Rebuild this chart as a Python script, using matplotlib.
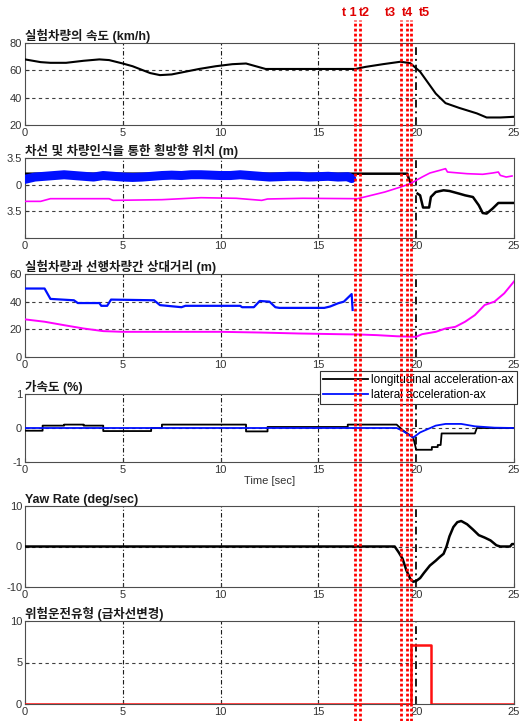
import numpy as np
import matplotlib
matplotlib.use("Agg")
import matplotlib.pyplot as plt
from matplotlib.lines import Line2D
from matplotlib.transforms import blended_transform_factory

plt.rcParams['font.family'] = ['Liberation Sans', 'Noto Sans CJK KR', 'DejaVu Sans']
plt.rcParams['axes.unicode_minus'] = False

# ---- data ----
speed_t = [0, 0.8, 1.3, 2.1, 3.0, 3.8, 4.3, 5.0, 5.5, 6.4, 6.9, 7.5, 8.2, 8.9, 9.75,
           10.6, 11.3, 11.8, 12.3, 14.0, 15.7, 16.9, 17.4, 18.3, 19.2, 19.7, 20.2,
           20.5, 21.0, 21.5, 22.2, 23.1, 23.6, 24.3, 25.0]
speed_v = [68, 66, 65.5, 65.5, 67, 68, 67.5, 65, 63, 58, 56.5, 57, 59, 61, 63,
           64.5, 65, 63, 61, 61, 61, 61, 62.5, 64.5, 66.3, 65.2, 59,
           53, 43, 36, 32.5, 28.5, 25.5, 25.5, 26]

lane_blue_t = list(np.arange(0, 16.6, 0.5)) + [16.7]
lane_blue_v = [0.7, 1.0, 1.1, 1.2, 1.3, 1.2, 1.1, 1.0, 1.2, 1.1, 1.0, 0.95, 1.0, 1.1,
               1.2, 1.25, 1.2, 1.3, 1.3, 1.25, 1.2, 1.2, 1.3, 1.2, 1.1, 1.0, 1.05,
               1.1, 1.1, 1.0, 1.05, 1.1, 1.0, 1.05, 0.8]
lane_black_t = [0, 19.55, 19.62, 19.75, np.nan, 20.07, 20.2, 20.35, 20.66, 20.75,
                21.0, 21.4, 21.7, 22.2, 22.5, 22.9, 23.2, 23.4, 23.6, 23.9, 24.2, 25.0]
lane_black_v = [1.44, 1.44, 0.8, 0.1, np.nan, -1.18, -1.4, -3.0, -3.0, -1.62,
                -0.96, -0.74, -0.83, -1.18, -1.4, -1.62, -2.71, -3.72, -3.8, -3.15, -2.4, -2.4]
lane_mag_t = [0, 0.8, 1.3, 4.3, 4.5, 7.0, 9.0, 10.8, 12.1, 12.4, 14.2, 17.0, 17.5,
              18.4, 19.2, 19.7, 20.3, 20.7, 21.2, 21.5, 21.6, 22.6, 23.4, 23.9,
              24.2, 24.3, 24.6, 24.9]
lane_mag_v = [-2.19, -2.19, -1.84, -1.84, -2.06, -1.97, -1.71, -1.79, -2.06, -1.88,
              -1.79, -1.84, -1.53, -0.96, -0.31, 0.13, 1.0, 1.53, 1.88, 2.1, 1.66,
              1.44, 1.36, 1.53, 1.66, 1.22, 1.0, 1.14]

gap_blue_t = [0, 1.0, 1.3, 2.5, 2.7, 3.8, 3.9, 4.2, 4.4, 6.6, 6.9, 8.0, 8.2, 11.0,
              11.1, 11.7, 12.0, 12.5, 12.8, 13.0, 15.3, 15.6, 16.0, 16.3, 16.7, 16.75]
gap_blue_v = [49.5, 49.5, 42, 41, 39, 39, 37, 37, 41.5, 41, 37.5, 36, 37, 37,
              36, 36, 40.5, 40, 36, 35.5, 35.5, 36.5, 38.8, 40, 45.5, 34]
gap_mag_t = [0, 1, 2, 3, 4, 5, 7, 10, 12, 14, 16, 17, 18, 19, 20, 20.3, 21, 21.5,
             22, 22.5, 23, 23.5, 24, 24.5, 25]
gap_mag_v = [27.2, 25.5, 23, 20.6, 18.7, 18.2, 18.2, 18.2, 17.7, 17, 16.5, 16.3,
             15.8, 15, 14.6, 16.5, 18.2, 20.6, 21.8, 25.5, 30.3, 37.6, 40, 46, 54.6]

ax_long_t = [0, 0.9, 0.9, 2.0, 2.0, 3.0, 3.0, 4.0, 4.0, 6.45, 6.45, 7.0, 7.0, 11.3,
             11.3, 12.4, 12.4, 16.5, 16.5, 19.0, 19.3, 19.6, 19.85, 20.0, 20.8, 20.8,
             21.1, 21.1, 21.25, 21.3, 23.0, 23.1, 25]
ax_long_v = [-0.08, -0.08, 0.07, 0.07, 0.1, 0.1, 0.07, 0.07, -0.09, -0.09, 0.0, 0.0,
             0.1, 0.1, -0.1, -0.1, 0.03, 0.03, 0.1, 0.1, -0.06, -0.18, -0.28, -0.64,
             -0.64, -0.56, -0.56, -0.5, -0.5, -0.16, -0.16, 0.0, 0.0]
ax_lat_t = [0, 19.0, 19.3, 19.7, 19.85, 20.2, 20.6, 21.0, 21.5, 22.3, 23.0, 24.0, 25]
ax_lat_v = [0.0, 0.0, -0.08, -0.23, -0.28, -0.13, -0.03, 0.07, 0.12, 0.12, 0.05, 0.01, 0.0]

yaw_t = [0, 18.9, 19.1, 19.3, 19.5, 19.7, 19.85, 20.0, 20.2, 20.4, 20.7, 21.0, 21.2,
         21.4, 21.55, 21.7, 21.9, 22.1, 22.3, 22.6, 22.9, 23.2, 23.5, 23.8, 24.1,
         24.3, 24.8, 24.9, 25.0]
yaw_v = [0, 0, -1.4, -3.0, -5.9, -8.0, -8.7, -8.5, -7.8, -6.5, -4.7, -3.5, -2.6,
         -1.8, 0.0, 2.5, 4.8, 6.0, 6.3, 5.5, 4.2, 2.8, 2.2, 1.5, 0.3,
         0.0, 0.0, 0.6, 0.6]

danger_t = [0, 19.73, 19.73, 20.75, 20.75, 25]
danger_v = [0, 0, 7.1, 7.1, 0, 0]

event_t = [16.87, 17.13, 19.22, 19.51, 19.75]
event_labels = ['t 1', 't2', 't3', 't4', 't5']
event_label_x = [349, 364, 390, 408, 424]

titles = ['실험차량의 속도 (km/h)',
          '차선 및 차량인식을 통한 횡방향 위치 (m)',
          '실험차량과 선행차량간 상대거리 (m)',
          '가속도 (%)',
          'Yaw Rate (deg/sec)',
          '위험운전유형 (급차선변경)']

# ---- layout (pixel boxes: top, bottom) ----
W, H = 521, 721
boxes = [(43, 125), (158, 238), (274, 357), (394, 462), (506, 587), (621, 704)]
x_left, x_right = 25, 514

fig = plt.figure(figsize=(W / 100, H / 100), dpi=100)
axes = []
for top, bot in boxes:
    ax = fig.add_axes([x_left / W, 1 - bot / H, (x_right - x_left) / W, (bot - top) / H])
    axes.append(ax)


def style(ax, title, ylim, yticks, ylabels=None):
    ax.set_xlim(0, 25)
    ax.set_ylim(*ylim)
    ax.set_xticks([0, 5, 10, 15, 20, 25])
    ax.set_yticks(yticks)
    if ylabels is not None:
        ax.set_yticklabels(ylabels)
    ax.tick_params(direction='in', length=3, labelsize=8, colors='0.2', pad=2)
    for s in ax.spines.values():
        s.set_color('0.3')
        s.set_linewidth(0.8)
    for xv in [5, 10, 15, 20]:
        ax.axvline(xv, color='0.1', lw=1.4 if xv == 20 else 0.8,
                   ls=(0, (4, 2, 1, 2)), zorder=1)
    for yv in yticks[1:-1]:
        ax.axhline(yv, color='0.25', lw=0.8, ls=(0, (3, 3)), zorder=1)
    ax.set_title(title, loc='left', fontsize=9, fontweight='bold', pad=2,
                 color='0.1')


ax1, ax2, ax3, ax4, ax5, ax6 = axes

style(ax1, titles[0], (20, 80), [20, 40, 60, 80])
ax1.plot(speed_t, speed_v, color='black', lw=1.5, zorder=3)

style(ax2, titles[1], (-7, 3.5), [-7, -3.5, 0, 3.5], ['', '3.5', '0', '3.5'])
ax2.plot(lane_black_t, lane_black_v, color='black', lw=1.8, zorder=3)
ax2.plot(lane_blue_t, lane_blue_v, color='#0010ff', lw=6.5, zorder=4,
         solid_capstyle='round')
ax2.plot(lane_mag_t, lane_mag_v, color='#ff00ff', lw=1.2, zorder=3)

style(ax3, titles[2], (0, 60), [0, 20, 40, 60])
ax3.plot(gap_blue_t, gap_blue_v, color='#0010ff', lw=1.6, zorder=3)
ax3.plot(gap_mag_t, gap_mag_v, color='#ff00ff', lw=1.4, zorder=3)

style(ax4, titles[3], (-1, 1), [-1, 0, 1])
ax4.plot(ax_long_t, ax_long_v, color='black', lw=1.3, zorder=3,
         label='longitudinal acceleration-ax')
ax4.plot(ax_lat_t, ax_lat_v, color='#0010ff', lw=1.3, zorder=3,
         label='lateral acceleration-ax')
ax4.set_xlabel('Time [sec]', fontsize=8, color='0.2', labelpad=1)
leg = ax4.legend(loc='upper right', bbox_to_anchor=(1.006, 1.34), fontsize=8.5,
                 fancybox=False, edgecolor='0.2', framealpha=1, handlelength=3.8,
                 borderpad=0.25, labelspacing=0.25, handletextpad=0.3,
                 borderaxespad=0)
leg.get_frame().set_linewidth(0.8)
leg.set_zorder(10)

style(ax5, titles[4], (-10, 10), [-10, 0, 10])
ax5.plot(yaw_t, yaw_v, color='black', lw=1.8, zorder=3)

style(ax6, titles[5], (0, 10), [0, 5, 10])
ax6.plot(danger_t, danger_v, color='#ff1010', lw=1.8, zorder=3)

# event markers spanning the whole figure
trans = blended_transform_factory(ax6.transData, fig.transFigure)
for t in event_t:
    fig.add_artist(Line2D([t, t], [0, 1 - 20 / H], transform=trans,
                          color='#ff0000', lw=2.0, ls=(0, (1, 0.8)), zorder=20))
for lab, xp in zip(event_labels, event_label_x):
    fig.text(xp / W, 1 - 13 / H, lab, color='#e00000', fontsize=9,
             fontweight='bold', ha='center', va='center')

fig.savefig('out.png', dpi=100)
